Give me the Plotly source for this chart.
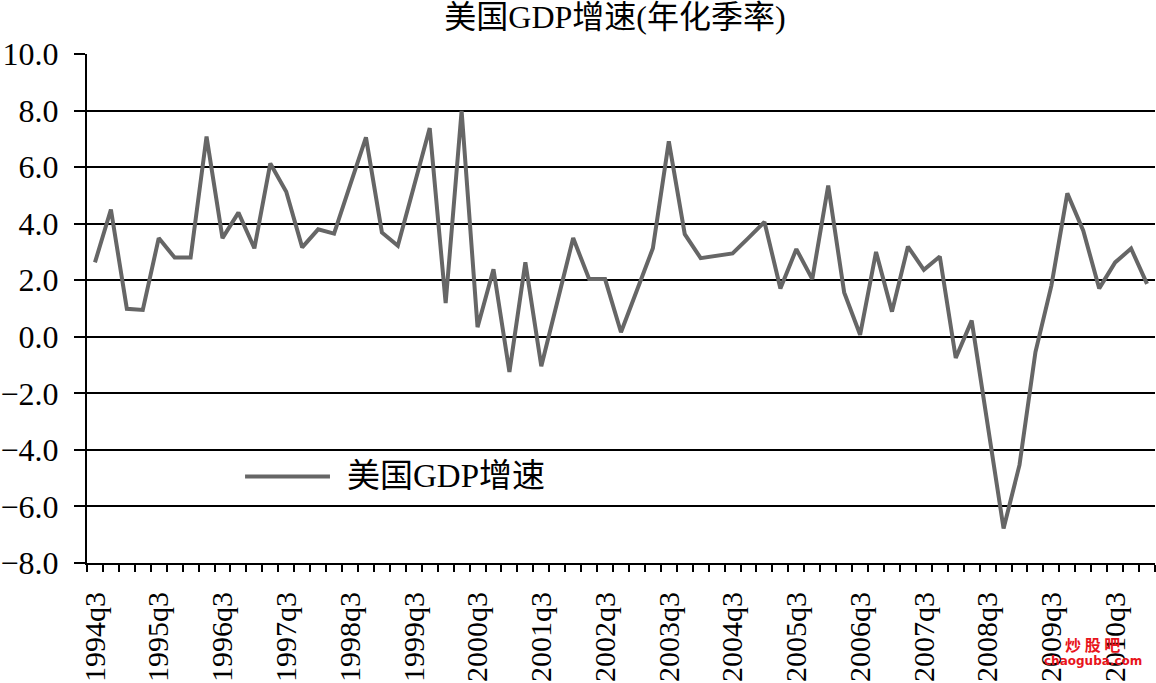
import plotly.graph_objects as go

years = list(range(1994, 2012))
quarters = [f"{y}q{q}" for y in years for q in range(1, 5)][2:69]  # 1994q3 .. 2011q1

gdp_growth = [
    2.63, 4.50, 0.99, 0.95, 3.49, 2.80, 2.80, 7.08, 3.49, 4.39,
    3.13, 6.13, 5.13, 3.16, 3.80, 3.65, 5.35, 7.05, 3.69, 3.22,
    5.30, 7.38, 1.19, 7.99, 0.34, 2.39, -1.24, 2.63, -1.04, 1.22,
    3.49, 2.04, 2.04, 0.16, 1.65, 3.13, 6.91, 3.63, 2.78, 2.88,
    2.95, 3.50, 4.06, 1.71, 3.10, 2.04, 5.35, 1.57, 0.07, 3.00,
    0.89, 3.19, 2.37, 2.84, -0.75, 0.57, -3.10, -6.78, -4.53, -0.54,
    1.81, 5.07, 3.75, 1.71, 2.63, 3.12, 1.87,
]

title_text = "美国GDP增速(年化季率)"
series_name = "美国GDP增速"
y_ticks = [-8, -6, -4, -2, 0, 2, 4, 6, 8, 10]

idx = list(range(len(quarters)))
label_idx = [i for i, q in enumerate(quarters) if q.endswith("q3")]

FONT = "Liberation Serif, Times New Roman, Noto Sans CJK SC, serif"
LINE_COLOR = "#666666"

fig = go.Figure()
fig.add_trace(go.Scatter(
    x=idx, y=gdp_growth, mode="lines", name=series_name,
    line=dict(color=LINE_COLOR, width=4), showlegend=False,
    text=quarters, hovertemplate="%{text}: %{y:.1f}<extra></extra>",
))

# manual legend (long line sample like the original)
fig.add_shape(type="line", xref="paper", yref="paper",
              x0=0.148, x1=0.2275, y0=0.170, y1=0.170,
              line=dict(color=LINE_COLOR, width=4))
fig.add_annotation(xref="paper", yref="paper", x=0.2416, y=0.170,
                   xanchor="left", yanchor="middle", showarrow=False,
                   text=series_name, font=dict(family=FONT, size=33, color="#000"))

# watermark
fig.add_annotation(xref="paper", yref="paper", x=0.9415, y=-0.160,
                   xanchor="center", yanchor="middle", showarrow=False,
                   text="<b>炒 股 吧</b>", font=dict(family="Noto Sans CJK SC", size=16, color="#e8141b"))
fig.add_annotation(xref="paper", yref="paper", x=0.9415, y=-0.192,
                   xanchor="center", yanchor="middle", showarrow=False,
                   text="<b>chaoguba.com</b>", font=dict(family="DejaVu Sans", size=12, color="#e8141b"))

fig.update_layout(
    width=1156, height=683,
    margin=dict(l=87, r=1, t=54, b=118),
    paper_bgcolor="white", plot_bgcolor="white",
    font=dict(family=FONT, color="#000"),
    title=dict(text=title_text, x=0.532, xref="container", xanchor="center",
               y=0.975, yref="container", yanchor="middle",
               font=dict(family=FONT, size=32, color="#000")),
    xaxis=dict(
        range=[-0.5, len(quarters) - 0.5],
        tickmode="array", tickvals=label_idx,
        ticktext=[quarters[i] for i in label_idx],
        tickangle=-90, ticks="outside", ticklen=15, tickcolor="rgba(0,0,0,0)",
        tickfont=dict(family=FONT, size=30, color="#000"),
        showgrid=False, zeroline=False,
        showline=True, linecolor="#000", linewidth=2,
        minor=dict(tickmode="array", tickvals=[i - 0.5 for i in idx] + [len(idx) - 0.5],
                   ticks="outside", ticklen=7, tickwidth=2, tickcolor="#000", showgrid=False),
    ),
    yaxis=dict(
        range=[-8, 10], tickmode="array", tickvals=y_ticks,
        tickformat=".1f",
        ticks="outside", ticklen=11, tickwidth=2, tickcolor="#000",
        ticklabelstandoff=9,
        tickfont=dict(family=FONT, size=32, color="#000"),
        showgrid=True, gridcolor="#000", gridwidth=2,
        zeroline=False,
        showline=True, linecolor="#000", linewidth=2,
    ),
)

fig.write_html("out.html", config={"displayModeBar": False},
               post_script="document.body.style.margin='0';")
